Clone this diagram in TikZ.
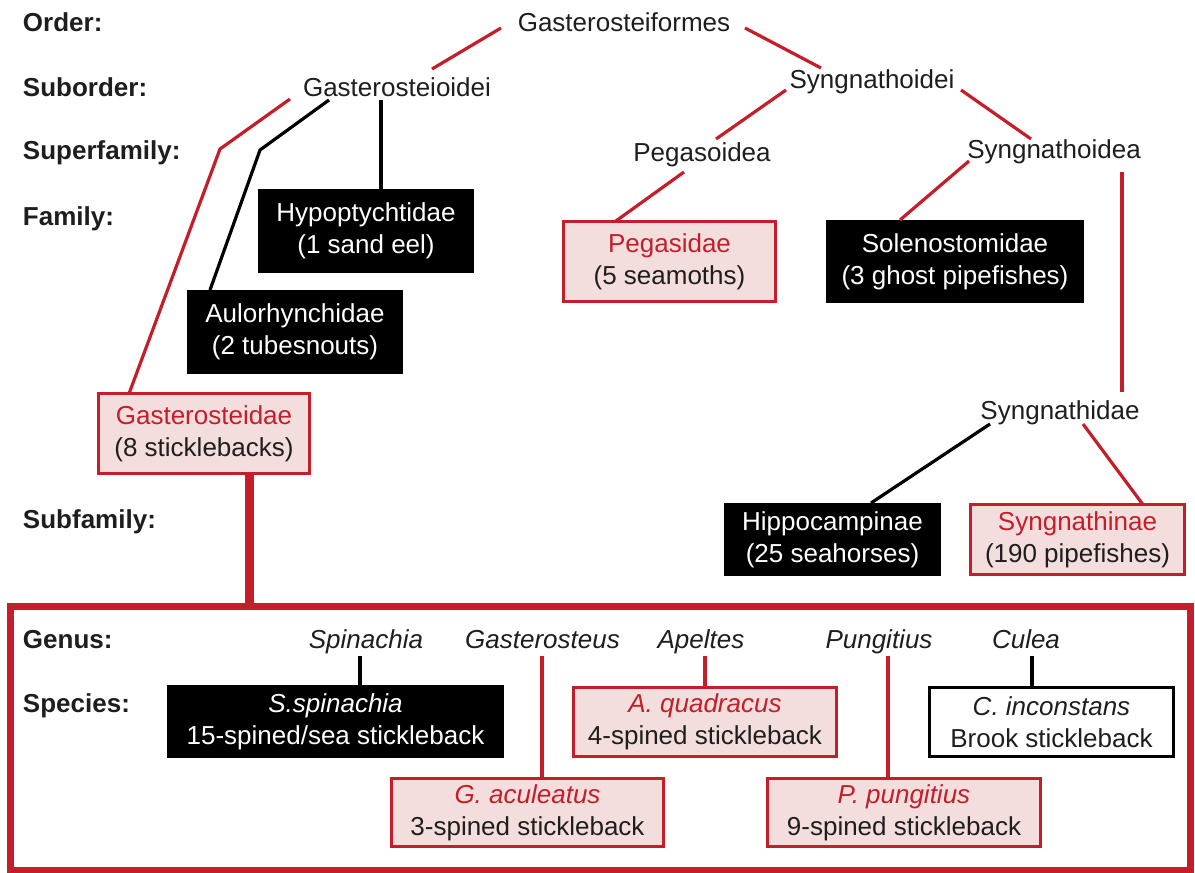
\documentclass[tikz,border=0pt]{standalone}
\usepackage{fontspec}
\setmainfont{Liberation Sans}
\definecolor{fred}{RGB}{196,30,42}
\definecolor{fpink}{RGB}{243,222,221}
\definecolor{ftext}{RGB}{30,30,30}
\begin{document}
\begin{tikzpicture}[x=1pt,y=-1pt,
  every node/.style={font=\fontsize{26}{32}\selectfont, text=ftext, inner sep=0pt, outer sep=0pt},
  lab/.style={anchor=base west, font=\fontsize{26}{32}\selectfont\bfseries},
  taxon/.style={anchor=base},
  genus/.style={anchor=base, font=\fontsize{26}{32}\selectfont\itshape},
  blk/.style={fill=black, text=white, align=center},
  pnk/.style={fill=fpink, draw=fred, line width=3.3pt, align=center},
  wht/.style={fill=white, draw=black, line width=3.3pt, align=center},
  rl/.style={draw=fred, line width=3.2pt},
  bl/.style={draw=black, line width=3.2pt},
]
\useasboundingbox (0,0) rectangle (1195,873);
\fill[white] (0,0) rectangle (1195,873);

% rank labels
\node[lab] (lorder) at (23,31) {Order:};
\node[lab] (lsub) at (23,96) {Suborder:};
\node[lab] (lsup) at (23,159) {Superfamily:};
\node[lab] (lfam) at (23,225) {Family:};
\node[lab] (lsubf) at (23,528) {Subfamily:};
\node[lab] (lgen) at (23,648) {Genus:};
\node[lab] (lspe) at (23,712) {Species:};

% plain taxa
\node[taxon] (gf) at (624,31) {Gasterosteiformes};
\node[taxon] (gsi) at (397,96) {Gasterosteioidei};
\node[taxon] (sgi) at (872,88) {Syngnathoidei};
\node[taxon] (pgs) at (702,161) {Pegasoidea};
\node[taxon] (sga) at (1054,158) {Syngnathoidea};
\node[taxon] (sgd) at (1060,419) {Syngnathidae};

% families
\node[blk, minimum width=216, minimum height=84] (hyp) at (366,231) {Hypoptychtidae\\(1 sand eel)};
\node[blk, minimum width=216, minimum height=84] (aul) at (295,332) {Aulorhynchidae\\(2 tubesnouts)};
\node[pnk, minimum width=210.7, minimum height=79.7] (gsd) at (204,433.5) {\textcolor{fred}{Gasterosteidae}\\(8 sticklebacks)};
\node[pnk, minimum width=211.7, minimum height=79.7] (pgd) at (669.5,261.5) {\textcolor{fred}{Pegasidae}\\(5 seamoths)};
\node[blk, minimum width=258, minimum height=83] (sol) at (955,261.5) {Solenostomidae\\(3 ghost pipefishes)};

% subfamilies
\node[blk, minimum width=217, minimum height=73] (hip) at (832.5,539.5) {Hippocampinae\\(25 seahorses)};
\node[pnk, minimum width=213.7, minimum height=69.7] (sgn) at (1077.5,539.5) {\textcolor{fred}{Syngnathinae}\\(190 pipefishes)};

% big box
\node[draw=fred, line width=7pt, minimum width=1180, minimum height=264] (big) at (600.5,738.5) {};

% genera
\node[genus] (gspi) at (366,648) {Spinachia};
\node[genus] (ggas) at (542.5,648) {Gasterosteus};
\node[genus] (gape) at (701,648) {Apeltes};
\node[genus] (gpun) at (879,648) {Pungitius};
\node[genus] (gcul) at (1026,648) {Culea};

% species
\node[blk, minimum width=337, minimum height=73] (ssp) at (335.5,721.5) {\textit{S.spinachia}\\15-spined/sea stickleback};
\node[pnk, minimum width=271.7, minimum height=67.7] (gac) at (527.5,812.5) {\textcolor{fred}{\itshape G. aculeatus}\\3-spined stickleback};
\node[pnk, minimum width=262.7, minimum height=68.7] (aqu) at (705,722) {\textcolor{fred}{\itshape A. quadracus}\\4-spined stickleback};
\node[pnk, minimum width=272.7, minimum height=67.7] (ppu) at (904,812.5) {\textcolor{fred}{\itshape P. pungitius}\\9-spined stickleback};
\node[wht, minimum width=243.7, minimum height=68.7] (cin) at (1051.5,722) {\textit{C. inconstans}\\Brook stickleback};

% red connectors
\draw[rl] ([shift={(-123,-3)}]gf.base) -- ([shift={(35,-27)}]gsi.base);
\draw[rl] ([shift={(121,-3)}]gf.base) -- ([shift={(-51,-20)}]sgi.base);
\draw[rl] ([shift={(-86,2)}]sgi.base) -- ([shift={(14,-22)}]pgs.base);
\draw[rl] ([shift={(89,2)}]sgi.base) -- ([shift={(-23,-19)}]sga.base);
\draw[rl] ([shift={(-18,11)}]pgs.base) -- ([shift={(-54.5,0)}]pgd.north);
\draw[rl] ([shift={(-85,3)}]sga.base) -- ([shift={(-55,0)}]sol.north);
\draw[rl] ([shift={(68,14)}]sga.base) -- ([shift={(62,-27)}]sgd.base);
\draw[rl] ([shift={(23,5)}]sgd.base) -- ([shift={(65.5,0)}]sgn.north);
\draw[rl] ([shift={(-107,3)}]gsi.base) -- ([shift={(-177,53)}]gsi.base) -- ([shift={(-75,0)}]gsd.north);
\draw[draw=fred, line width=9pt] ([shift={(45.5,0)}]gsd.south) -- ([shift={(45.5,0)}]gsd.south |- big.north);
\draw[rl] ([shift={(-0.5,8)}]ggas.base) -- ([shift={(14.5,0)}]gac.north);
\draw[rl] ([shift={(4,8)}]gape.base) -- (aqu.north);
\draw[rl] ([shift={(9,8)}]gpun.base) -- ([shift={(-16,0)}]ppu.north);

% black connectors
\draw[bl] ([shift={(-68,4)}]gsi.base) -- ([shift={(-137,54)}]gsi.base) -- ([shift={(-85,0)}]aul.north);
\draw[bl] ([shift={(-16,4)}]gsi.base) -- ([shift={(15,0)}]hyp.north);
\draw[bl] ([shift={(-70,5)}]sgd.base) -- ([shift={(38.5,0)}]hip.north);
\draw[bl] ([shift={(-6,8)}]gspi.base) -- ([shift={(24.5,0)}]ssp.north);
\draw[bl] ([shift={(6,8)}]gcul.base) -- ([shift={(-19.5,0)}]cin.north);
\end{tikzpicture}
\end{document}
